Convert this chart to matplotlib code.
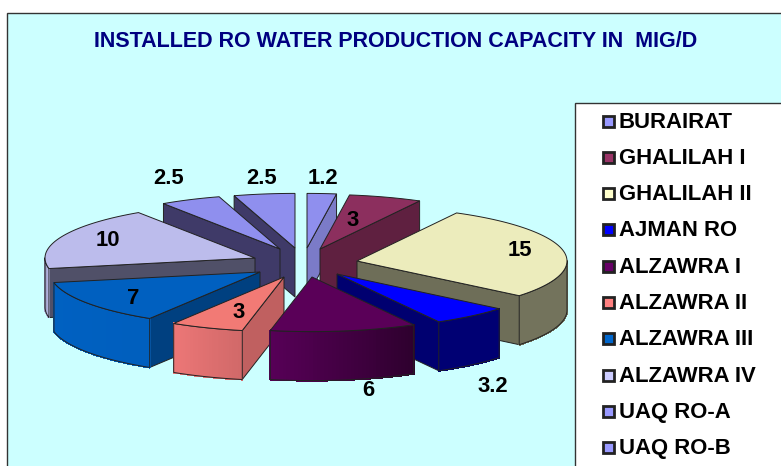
"""
installed_ro.py

Exploded 3D style pie of installed RO capacity, drawn on a pixel sized axes.
"""
import numpy as np
import matplotlib
matplotlib.use('Agg')
import matplotlib.pyplot as plt
from matplotlib.patches import Polygon, Rectangle
from matplotlib.colors import to_rgb

plt.rcParams['font.family'] = ['Liberation Sans', 'DejaVu Sans']

# ── data ─────────────────────────────────────────────
names = ["BURAIRAT", "GHALILAH I", "GHALILAH II", "AJMAN RO", "ALZAWRA I",
         "ALZAWRA II", "ALZAWRA III", "ALZAWRA IV", "UAQ RO-A", "UAQ RO-B"]
values = [1.2, 3, 15, 3.2, 6, 3, 7, 10, 2.5, 2.5]

# ── style / layout ───────────────────────────────────
legend_colors = ['#9999FF', '#993366', '#FFFFCC', '#0000FF', '#660066',
                 '#FF8080', '#0066CC', '#CCCCFF', '#9999FF', '#9999FF']
top_colors = ['#8F8FEE', '#8C2F5E', '#ECECBC', '#0000FF', '#5A0058',
              '#F27A75', '#0060C0', '#BCBCEC', '#8F8FEE', '#8F8FEE']
cut_colors = ['#7B7BC8', '#5F2040', '#6E6E58', '#000070', '#400040',
              '#C06060', '#004080', '#505068', '#3F3A68', '#3F3A68']
# apex of every exploded slice, pixels
apex_x = [307, 320, 357, 337, 312, 284, 260, 255, 280, 295]
apex_y = [248, 249, 261, 274, 277, 277, 272, 258, 249, 248]
label_x = [323, 353, 520, 493, 368, 239, 133, 108, 169, 262]
label_y = [179, 220, 251, 386, 391, 312, 298, 241, 179, 179]
draw_order = [0, 9, 1, 8, 2, 7, 3, 6, 5, 4]

RADIUS = 210
SQUASH = 0.26
DEPTH  = 49
BG     = '#CCFFFF'
EDGE   = '#222222'

fig = plt.figure(figsize=(7.81, 4.66), dpi=100)
ax = fig.add_axes([0, 0, 1, 1])
ax.set_xlim(0, 781)
ax.set_ylim(466, 0)
ax.axis('off')

ax.add_patch(Rectangle((6.5, 12.5), 800, 480, fc=BG, ec='#333333', lw=1))


def rim(x0, y0, t):
    rad = np.radians(t)
    return (x0 + RADIUS * np.sin(rad),
            y0 - RADIUS * SQUASH * np.cos(rad))


def wall_shade(t):
    return np.interp(t, [90, 130, 151, 191, 192, 212, 259, 270],
                     [0.45, 0.45, 0.45, 0.85, 0.82, 0.93, 0.95, 0.72])


def scaled(color, f):
    return tuple(c * f for c in to_rgb(color))


def draw_slice(i, a1, a2):
    x0, y0 = apex_x[i], apex_y[i]
    ts = np.linspace(a1, a2, 60)
    xs, ys = rim(x0, y0, ts)

    # cut faces that look towards the viewer
    if a1 > 180:
        fx, fy = rim(x0, y0, a1)
        ax.add_patch(Polygon([(x0, y0), (fx, fy), (fx, fy + DEPTH),
                              (x0, y0 + DEPTH)],
                             fc=cut_colors[i], ec=EDGE, lw=0.7))
    if a2 < 180:
        fx, fy = rim(x0, y0, a2)
        ax.add_patch(Polygon([(x0, y0), (fx, fy), (fx, fy + DEPTH),
                              (x0, y0 + DEPTH)],
                             fc=cut_colors[i], ec=EDGE, lw=0.7))

    # outer wall, small strips so the shade can change with the angle
    lo, hi = max(a1, 90), min(a2, 270)
    if lo < hi:
        wt = np.linspace(lo, hi, 40)
        wx, wy = rim(x0, y0, wt)
        for k in range(len(wt) - 1):
            col = scaled(legend_colors[i], wall_shade(wt[k]))
            # no antialias here, otherwise seams show between the strips
            ax.add_patch(Polygon([(wx[k], wy[k]), (wx[k + 1], wy[k + 1]),
                                  (wx[k + 1], wy[k + 1] + DEPTH),
                                  (wx[k], wy[k] + DEPTH)],
                                 fc=col, ec=col, lw=0.8, antialiased=False))
        outline = (list(zip(wx, wy)) +
                   list(zip(wx[::-1], wy[::-1] + DEPTH)))
        ax.add_patch(Polygon(outline, fill=False, ec=EDGE, lw=0.7))

    # top
    top = [(x0, y0)] + list(zip(xs, ys))
    ax.add_patch(Polygon(top, fc=top_colors[i], ec=EDGE, lw=0.7))


edges = np.concatenate([[0], np.cumsum(values)]) / np.sum(values) * 360
for i in draw_order:
    draw_slice(i, edges[i], edges[i + 1])

for i, v in enumerate(values):
    ax.text(label_x[i], label_y[i], f"{v:g}", fontsize=15.8,
            fontweight='bold', ha='center', va='center', color='black')

ax.text(395.5, 41.5, "INSTALLED RO WATER PRODUCTION CAPACITY IN  MIG/D",
        fontsize=15.5, fontweight='bold', ha='center', va='center',
        color='#000080')

# ── legend ───────────────────────────────────────────
ax.add_patch(Rectangle((574.5, 102.5), 300, 400, fc='white',
                       ec='#333333', lw=1))
for i, name in enumerate(names):
    y = 121 + i * 36.3
    ax.add_patch(Rectangle((603, y - 5.5), 10.5, 11, fc=legend_colors[i],
                           ec='#222222', lw=2))
    ax.text(619, y + 1, name, fontsize=15.9, fontweight='bold',
            ha='left', va='center', color='black')

fig.savefig('out.png', dpi=100, facecolor='white')
